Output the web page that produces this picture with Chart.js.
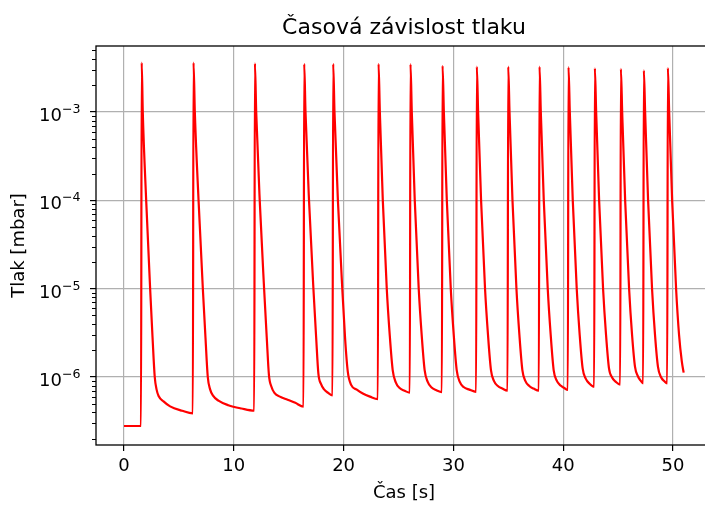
<!DOCTYPE html>
<html lang="cs">

<head>
    <meta charset="utf-8">
    <title>Časová závislost tlaku</title>
    <style>
        html, body { margin: 0; padding: 0; overflow: hidden; background: #fff; }
        #obal { position: absolute; left: 0; top: 0; width: 716px; height: 506px; }
    </style>
</head>

<body>
    <div id="obal">
        <canvas id="graf"></canvas>
    </div>

    <script src="https://cdn.jsdelivr.net/npm/chart.js"></script>
    <script>
        // cas [s], one line per pumping cycle
        const casy = [
            0, 1.55,
            1.61, 1.71, 2.02, 2.38, 2.60, 2.80, 2.97, 3.15, 3.60, 4.20, 5.30, 6.27,
            6.33, 6.45, 6.79, 7.18, 7.42, 7.63, 7.85, 8.09, 8.60, 9.50, 10.70, 11.86,
            11.92, 12.04, 12.36, 12.76, 13.00, 13.20, 13.42, 13.70, 14.20, 14.80, 15.60, 16.35,
            16.41, 16.53, 16.85, 17.25, 17.50, 17.70, 17.95, 18.20, 18.60, 18.99,
            19.05, 19.17, 19.48, 19.88, 20.13, 20.38, 20.70, 21.20, 21.75, 22.40, 23.12,
            23.18, 23.30, 23.57, 23.93, 24.20, 24.47, 24.75, 25.10, 25.55, 26.03,
            26.09, 26.21, 26.48, 26.84, 27.11, 27.38, 27.66, 28.01, 28.45, 28.95,
            29.01, 29.13, 29.40, 29.76, 30.03, 30.30, 30.58, 30.93, 31.45, 32.07,
            32.13, 32.25, 32.52, 32.88, 33.15, 33.42, 33.70, 34.05, 34.45, 34.93,
            34.99, 35.11, 35.38, 35.74, 36.01, 36.28, 36.56, 36.91, 37.30, 37.78,
            37.84, 37.96, 38.23, 38.59, 38.86, 39.13, 39.41, 39.76, 40.10, 40.42,
            40.48, 40.60, 40.87, 41.23, 41.50, 41.77, 42.05, 42.40, 42.82,
            42.88, 43.00, 43.27, 43.63, 43.90, 44.17, 44.45, 44.80, 45.19,
            45.25, 45.37, 45.64, 46.00, 46.27, 46.54, 46.80, 47.05, 47.28,
            47.34, 47.46, 47.73, 48.09, 48.36, 48.63, 48.90, 49.20, 49.47,
            49.53, 49.65, 49.92, 50.28, 50.55, 50.80, 50.97
        ];

        // tlak [mbar], same order as casy
        const tlaky = [
            2.79e-7, 2.80e-7,
            3.62e-3, 1.0e-3, 1.0e-4, 1.0e-5, 2.8e-6, 1.0e-6, 7.2e-7, 6.1e-7, 5.3e-7, 4.65e-7, 4.15e-7, 3.88e-7,
            3.62e-3, 1.0e-3, 1.0e-4, 1.0e-5, 2.8e-6, 1.0e-6, 7.2e-7, 6.2e-7, 5.4e-7, 4.8e-7, 4.4e-7, 4.16e-7,
            3.55e-3, 1.0e-3, 1.0e-4, 1.0e-5, 2.8e-6, 1.05e-6, 7.8e-7, 6.6e-7, 6.0e-7, 5.6e-7, 5.1e-7, 4.61e-7,
            3.50e-3, 1.0e-3, 1.0e-4, 1.0e-5, 2.8e-6, 1.1e-6, 8.3e-7, 7.3e-7, 6.6e-7, 6.2e-7,
            3.50e-3, 1.0e-3, 1.0e-4, 1.0e-5, 2.8e-6, 1.15e-6, 8.1e-7, 7.2e-7, 6.5e-7, 6.0e-7, 5.63e-7,
            3.50e-3, 1.0e-3, 1.0e-4, 1.0e-5, 3.0e-6, 1.2e-6, 8.7e-7, 7.5e-7, 7.0e-7, 6.64e-7,
            3.48e-3, 1.0e-3, 1.0e-4, 1.0e-5, 3.0e-6, 1.2e-6, 8.8e-7, 7.6e-7, 7.1e-7, 6.76e-7,
            3.34e-3, 1.0e-3, 1.0e-4, 1.0e-5, 3.0e-6, 1.2e-6, 8.8e-7, 7.7e-7, 7.2e-7, 6.8e-7,
            3.26e-3, 1.0e-3, 1.0e-4, 1.0e-5, 3.0e-6, 1.2e-6, 9.0e-7, 7.9e-7, 7.4e-7, 7.0e-7,
            3.26e-3, 1.0e-3, 1.0e-4, 1.0e-5, 3.0e-6, 1.2e-6, 9.0e-7, 7.9e-7, 7.4e-7, 7.0e-7,
            3.26e-3, 1.0e-3, 1.0e-4, 1.0e-5, 3.0e-6, 1.2e-6, 9.1e-7, 8.0e-7, 7.5e-7, 7.13e-7,
            3.23e-3, 1.0e-3, 1.0e-4, 1.0e-5, 3.0e-6, 1.25e-6, 9.6e-7, 8.4e-7, 7.76e-7,
            3.13e-3, 1.0e-3, 1.0e-4, 1.0e-5, 3.0e-6, 1.25e-6, 9.9e-7, 8.8e-7, 8.2e-7,
            3.08e-3, 1.0e-3, 1.0e-4, 1.0e-5, 3.0e-6, 1.3e-6, 1.02e-6, 9.1e-7, 8.48e-7,
            2.96e-3, 1.0e-3, 1.0e-4, 1.0e-5, 3.0e-6, 1.3e-6, 1.0e-6, 9.0e-7, 8.48e-7,
            3.15e-3, 1.0e-3, 1.0e-4, 1.0e-5, 3.0e-6, 1.5e-6, 1.12e-6
        ];

        // axis ticks
        const xTicks = [0, 10, 20, 30, 40, 50];
        const yTicks = [1e-6, 1e-5, 1e-4, 1e-3];
        const yTickExp = ['−6', '−5', '−4', '−3'];

        const xRozsah = [-2.55, 53.55];
        const yRozsah = [1.70e-7, 5.59e-3];

        // minor ticks on the log axis (2..9 x 10^n)
        const yMinor = [];
        for (let e = -7; e <= -3; e++) {
            for (let m = 2; m <= 9; m++) {
                const v = m * Math.pow(10, e);
                if (v > yRozsah[0] && v < yRozsah[1]) yMinor.push(v);
            }
        }

        const pismo = 'DejaVu Sans, sans-serif';

        // black frame around the plot, short minor ticks and 10^n labels with a real superscript
        const ramecek = {
            id: 'ramecek',
            afterDraw(chart) {
                const { ctx, chartArea: a, scales: { y } } = chart;
                ctx.save();
                ctx.strokeStyle = '#000';
                ctx.lineWidth = 1;
                yMinor.forEach(v => {
                    const py = Math.round(y.getPixelForValue(v)) + 0.5;
                    ctx.beginPath();
                    ctx.moveTo(a.left - 4, py);
                    ctx.lineTo(a.left, py);
                    ctx.stroke();
                });
                ctx.lineWidth = 1.3;
                ctx.strokeRect(a.left, a.top, a.right - a.left, a.bottom - a.top);

                ctx.fillStyle = '#000';
                ctx.textAlign = 'right';
                ctx.textBaseline = 'alphabetic';
                const xr = a.left - 15.5;
                yTicks.forEach((v, i) => {
                    const py = y.getPixelForValue(v);
                    ctx.font = '12.6px ' + pismo;
                    const w = ctx.measureText(yTickExp[i]).width;
                    ctx.fillText(yTickExp[i], xr, py + 1);
                    ctx.font = '18px ' + pismo;
                    ctx.fillText('10', xr - w, py + 9);
                });
                ctx.restore();
            }
        };

        const ctx = document.getElementById('graf').getContext('2d');
        new Chart(ctx, {
            type: 'line',
            data: {
                datasets: [{
                    data: casy.map((t, i) => ({ x: t, y: tlaky[i] })),
                    borderColor: '#ff0000',
                    borderWidth: 2.2,
                    pointRadius: 0,
                    fill: false,
                    cubicInterpolationMode: 'monotone'
                }]
            },
            options: {
                responsive: true,
                maintainAspectRatio: false,
                animation: false,
                devicePixelRatio: 1,
                layout: { padding: { left: 0, right: 4, top: 0, bottom: 0 } },
                plugins: {
                    legend: { display: false },
                    tooltip: { enabled: false },
                    title: {
                        display: true,
                        fullSize: false,
                        text: 'Časová závislost tlaku',
                        color: '#000',
                        font: { family: pismo, size: 22, weight: 'normal' },
                        padding: { top: 15, bottom: 4.6 }
                    }
                },
                scales: {
                    x: {
                        type: 'linear',
                        min: xRozsah[0],
                        max: xRozsah[1],
                        afterBuildTicks: axis => { axis.ticks = xTicks.map(v => ({ value: v })); },
                        afterFit: scale => { scale.height = 61; },
                        border: { display: false },
                        grid: { color: '#b0b0b0', lineWidth: 1.2, tickColor: '#000', tickLength: 6, tickWidth: 1.2 },
                        ticks: { color: '#000', font: { family: pismo, size: 18 }, padding: 5, maxRotation: 0 },
                        title: {
                            display: true,
                            text: 'Čas [s]',
                            color: '#000',
                            font: { family: pismo, size: 18 },
                            padding: { top: 0, bottom: 2 }
                        }
                    },
                    y: {
                        type: 'logarithmic',
                        min: yRozsah[0],
                        max: yRozsah[1],
                        afterBuildTicks: axis => { axis.ticks = yTicks.map(v => ({ value: v, major: true })); },
                        afterFit: scale => { scale.width = 96; },
                        border: { display: false },
                        grid: { color: '#b0b0b0', lineWidth: 1.2, tickColor: '#000', tickLength: 6, tickWidth: 1.2 },
                        ticks: { display: false },
                        title: {
                            display: true,
                            text: 'Tlak [mbar]',
                            color: '#000',
                            font: { family: pismo, size: 18 },
                            padding: { top: 9, bottom: 0 }
                        }
                    }
                }
            },
            plugins: [ramecek]
        });
    </script>
</body>

</html>
